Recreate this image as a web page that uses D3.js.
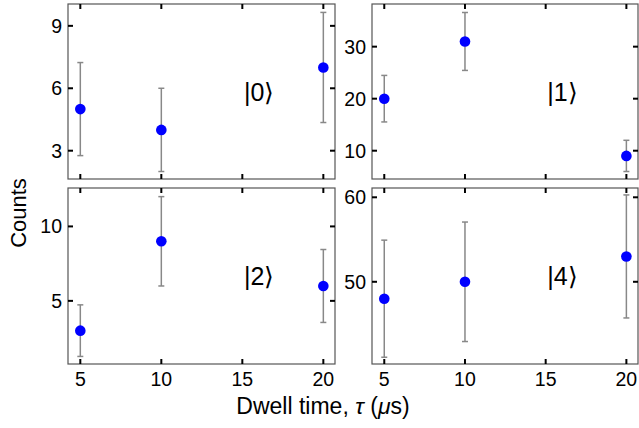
<!DOCTYPE html>
<html>
<head>
<meta charset="utf-8">
<script src="https://cdn.jsdelivr.net/npm/d3@7"></script>
<style>
  body { margin: 0; background: #fff; }
  svg { display: block; font-family: "Liberation Sans", Arial, sans-serif; }
</style>
</head>
<body>
<div id="chart"></div>
<script>
// dwell times (us)
const dwellTimes = [5, 10, 20];
const xTicks = [5, 10, 15, 20];

// counts per state, error bars are sqrt(N)
const counts0 = [5, 4, 7];
const counts1 = [20, 31, 9];
const counts2 = [3, 9, 6];
const counts4 = [48, 50, 53];

const stateLabels = ["|0\u27E9", "|1\u27E9", "|2\u27E9", "|4\u27E9"];
const yTicks0 = [3, 6, 9];
const yTicks1 = [10, 20, 30];
const yTicks2 = [5, 10];
const yTicks4 = [50, 60];

const W = 639, H = 428;

// panel layout
const panels = [
    { values: counts0, label: stateLabels[0], ticks: yTicks0, ydom: [1.64, 10.05], x0: 68, x1: 335, y0: 4, y1: 179 },
    { values: counts1, label: stateLabels[1], ticks: yTicks1, ydom: [4.56, 38.2], x0: 372, x1: 638, y0: 4, y1: 179 },
    { values: counts2, label: stateLabels[2], ticks: yTicks2, ydom: [0.76, 12.58], x0: 68, x1: 335, y0: 188, y1: 364 },
    { values: counts4, label: stateLabels[3], ticks: yTicks4, ydom: [40.27, 61.1], x0: 372, x1: 638, y0: 188, y1: 364 }
];

const svg = d3.select("#chart").append("svg")
    .attr("width", W)
    .attr("height", H);

const tickLen = 5;

panels.forEach((p, i) => {
    const x = d3.scaleLinear().domain([4.24, 20.72]).range([p.x0, p.x1]);
    const y = d3.scaleLinear().domain(p.ydom).range([p.y1, p.y0]);
    const g = svg.append("g");

    // frame
    g.append("rect")
        .attr("x", p.x0).attr("y", p.y0)
        .attr("width", p.x1 - p.x0).attr("height", p.y1 - p.y0)
        .attr("fill", "none")
        .attr("stroke", "#555")
        .attr("stroke-width", 1.2);

    // ticks on all four sides, pointing inward
    xTicks.forEach(t => {
        g.append("line").attr("x1", x(t)).attr("x2", x(t))
            .attr("y1", p.y1).attr("y2", p.y1 - tickLen)
            .attr("stroke", "#000").attr("stroke-width", 2);
        g.append("line").attr("x1", x(t)).attr("x2", x(t))
            .attr("y1", p.y0).attr("y2", p.y0 + tickLen)
            .attr("stroke", "#000").attr("stroke-width", 2);
    });
    p.ticks.forEach(t => {
        g.append("line").attr("x1", p.x0).attr("x2", p.x0 + tickLen)
            .attr("y1", y(t)).attr("y2", y(t))
            .attr("stroke", "#000").attr("stroke-width", 2);
        g.append("line").attr("x1", p.x1).attr("x2", p.x1 - tickLen)
            .attr("y1", y(t)).attr("y2", y(t))
            .attr("stroke", "#000").attr("stroke-width", 2);
        g.append("text")
            .attr("x", p.x0 - 6).attr("y", y(t))
            .attr("dy", "0.36em")
            .attr("text-anchor", "end")
            .style("font-size", "19.5px")
            .text(t);
    });

    // x tick labels only on bottom row
    if (i >= 2) {
        xTicks.forEach(t => {
            g.append("text")
                .attr("x", x(t)).attr("y", p.y1 + 22)
                .attr("text-anchor", "middle")
                .style("font-size", "19.5px")
                .text(t);
        });
    }

    // error bars
    const data = dwellTimes.map((t, j) => ({ t, v: p.values[j], e: Math.sqrt(p.values[j]) }));
    data.forEach(d => {
        const cx = x(d.t);
        const top = Math.min(d.v + d.e, p.ydom[1]);
        g.append("line").attr("x1", cx).attr("x2", cx)
            .attr("y1", y(d.v - d.e)).attr("y2", y(top))
            .attr("stroke", "#888").attr("stroke-width", 1.5);
        [d.v - d.e, d.v + d.e].forEach(v => {
            if (v > p.ydom[1]) return;
            g.append("line").attr("x1", cx - 3).attr("x2", cx + 3)
                .attr("y1", y(v)).attr("y2", y(v))
                .attr("stroke", "#888").attr("stroke-width", 1.5);
        });
    });

    // points
    g.selectAll("circle")
        .data(data)
        .enter()
        .append("circle")
        .attr("cx", d => x(d.t))
        .attr("cy", d => y(d.v))
        .attr("r", 5.3)
        .attr("fill", "#0000ff");

    // state label
    g.append("text")
        .attr("x", x(15.1))
        .attr("y", (p.y0 + p.y1) / 2 + 9)
        .style("font-size", "25px")
        .text(p.label);
});

// axis titles
svg.append("text")
    .attr("transform", "translate(26,213) rotate(-90)")
    .attr("text-anchor", "middle")
    .style("font-size", "22px")
    .text("Counts");

svg.append("text")
    .attr("x", 323).attr("y", 414)
    .attr("text-anchor", "middle")
    .style("font-size", "23px")
    .html("Dwell time, <tspan font-style='italic'>\u03C4</tspan> (<tspan font-style='italic'>\u03BC</tspan>s)");
</script>
</body>
</html>
